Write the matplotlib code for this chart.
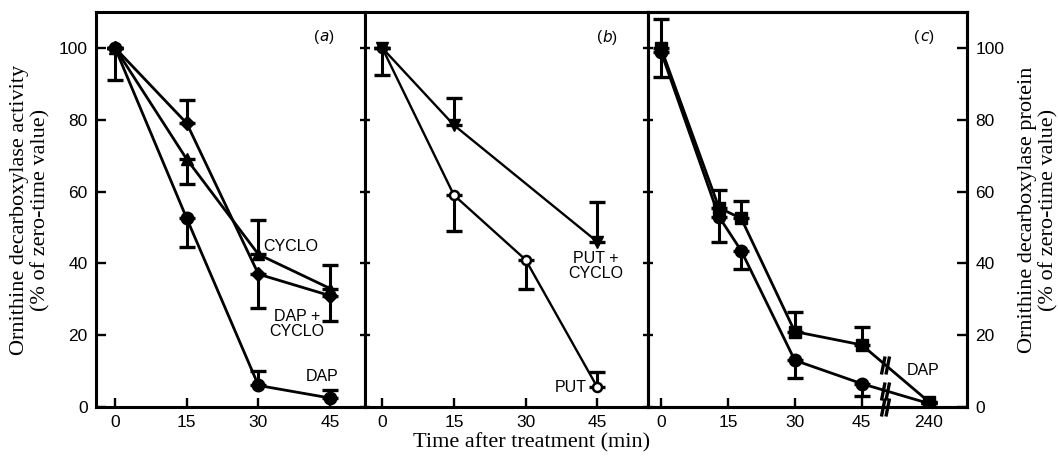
import matplotlib
matplotlib.use("Agg")
import matplotlib.pyplot as plt
import numpy as np
from matplotlib.path import Path

# ------------------------------------------------------------
# Ornithine decarboxylase decay after treatment, panels (a)-(c)
# ------------------------------------------------------------

# panel (a): activity
a_time = [0, 15, 30, 45]
a_dap = [100, 52.5, 6, 2.5]
a_dap_lo = [9, 8, 0, 0]
a_dap_hi = [0, 0, 4, 2.2]
a_cyclo = [100, 69, 42.5, 33]
a_cyclo_lo = [0, 7, 0, 0]
a_cyclo_hi = [0, 0, 9.5, 6.5]
a_dapcyclo = [100, 79, 37, 31]
a_dapcyclo_lo = [0, 0, 9.5, 7]
a_dapcyclo_hi = [0, 6.5, 0, 0]

# panel (b): activity
b_time = [0, 15, 30, 45]
b_put = [100, 59, 41, 5.5]
b_put_lo = [7.5, 10, 8, 0]
b_put_hi = [0, 0, 0, 4.3]
b_putcyclo_time = [0, 15, 45]
b_putcyclo = [100, 78.5, 46]
b_putcyclo_hi = [0, 7.5, 11]

# panel (c): protein; last point is 240 min, drawn after an axis break
c_time = [0, 13, 18, 30, 45, 60]
c_square = [100, 55.5, 52.5, 21, 17.3, 1.5]
c_square_hi = [8, 5, 5, 5.5, 5, 0]
c_circle = [99, 53, 43.5, 13, 6.5, 1]
c_circle_lo = [7, 7, 5, 5, 3.3, 0]
c_ticks = [0, 15, 30, 45, 60]
c_ticklabels = ["0", "15", "30", "45", "240"]
c_break = 50.2

y_ticks = [0, 20, 40, 60, 80, 100]

SANS = "Liberation Sans"
SERIF = "Liberation Serif"
LW = 2.0

plt.rcParams["font.family"] = SANS

fig = plt.figure(figsize=(10.58, 4.57), dpi=100)
bottom, height = 0.1094, 0.8643
ax_a = fig.add_axes([0.0907, bottom, 0.2543, height])
ax_b = fig.add_axes([0.3450, bottom, 0.2675, height])
ax_c = fig.add_axes([0.6125, bottom, 0.3015, height])


def style(ax, xlim, ydir):
    ax.set_ylim(0, 110)
    ax.set_xlim(*xlim)
    for sp in ax.spines.values():
        sp.set_linewidth(2.2)
    ax.set_yticks(y_ticks)
    ax.tick_params(axis="x", direction="in", length=6.5, width=1.7,
                   top=False, labelsize=12.5, pad=6)
    ax.tick_params(axis="y", direction=ydir, length=7, width=1.7,
                   right=False, labelsize=12.5, pad=6)


def series(ax, x, y, lo, hi, marker, ms, lw=LW, mfc="black", mew=1.0):
    ax.errorbar(x, y, yerr=[lo, hi], fmt="none", ecolor="black",
                elinewidth=2.2, capsize=5.5, capthick=2.4, zorder=2)
    ax.plot(x, y, color="black", linewidth=lw, marker=marker, markersize=ms,
            markerfacecolor=mfc, markeredgecolor="black",
            markeredgewidth=mew, zorder=3)


# (a)
style(ax_a, (-4, 52.3), "in")
ax_a.set_xticks(a_time)
series(ax_a, a_time, a_dap, a_dap_lo, a_dap_hi, "o", 9)
series(ax_a, a_time, a_cyclo, a_cyclo_lo, a_cyclo_hi, "^", 8.5)
series(ax_a, a_time, a_dapcyclo, a_dapcyclo_lo, a_dapcyclo_hi, "D", 7.5)
ax_a.text(31, 44.8, "CYCLO", fontsize=11.5, va="center", ha="left")
ax_a.text(38, 23, "DAP +\nCYCLO", fontsize=11.5, va="center", ha="center",
          linespacing=1.0)
ax_a.text(43.3, 8.4, "DAP", fontsize=11.5, va="center", ha="center")
ax_a.text(42.7, 103, "(", fontsize=11, ha="right", va="center")
ax_a.text(42.7, 103, r"$\it{a}$)", fontsize=11, ha="left", va="center")
ax_a.set_ylabel("Ornithine decarboxylase activity\n(% of zero-time value)",
                family=SERIF, fontsize=16, labelpad=6, linespacing=1.1)

# (b)
style(ax_b, (-3.6, 55.6), "inout")
ax_b.set_xticks(b_time)
ax_b.tick_params(axis="y", labelleft=False)
series(ax_b, b_time, b_put, b_put_lo, b_put_hi, "o", 6.5, lw=1.7,
       mfc="white", mew=1.8)
series(ax_b, b_putcyclo_time, b_putcyclo, [0, 0, 0], b_putcyclo_hi, "v", 8,
       lw=1.7)
ax_b.text(44.6, 39.3, "PUT +\nCYCLO", fontsize=11.5, va="center",
          ha="center", linespacing=1.0)
ax_b.text(42.7, 5.3, "PUT", fontsize=11.5, va="center", ha="right")
ax_b.text(46, 103, "(", fontsize=11, ha="right", va="center")
ax_b.text(46, 103, r"$\it{b}$)", fontsize=11, ha="left", va="center")
ax_b.set_xlabel("Time after treatment (min)", family=SERIF, fontsize=16)
ax_b.xaxis.set_label_coords(0.59, -0.065)

# (c)
style(ax_c, (-2.9, 68.6), "inout")
ax_c.set_xticks(c_ticks)
ax_c.set_xticklabels(c_ticklabels)
ax_c.tick_params(axis="y", labelleft=False)
series(ax_c, c_time, c_square, [0] * 6, c_square_hi, "s", 8.5)
series(ax_c, c_time, c_circle, c_circle_lo, [0] * 6, "o", 9)
ax_c.text(58.7, 10.3, "DAP", fontsize=11.5, va="center", ha="center")
ax_c.text(58, 103, "(", fontsize=11, ha="right", va="center")
ax_c.text(58, 103, r"$\it{c}$)", fontsize=11, ha="left", va="center")

# axis-break marks: two steep strokes
brk = Path([(-0.45, -1), (-0.05, 1), (0.05, -1), (0.45, 1)],
           [Path.MOVETO, Path.LINETO, Path.MOVETO, Path.LINETO])
y_sq = np.interp(c_break, c_time, c_square)
y_ci = np.interp(c_break, c_time, c_circle)
ax_c.plot([c_break, c_break, c_break], [y_sq, y_ci, 0], linestyle="none",
          marker=brk, markersize=13, markeredgewidth=2.4, color="black",
          clip_on=False, zorder=5)

ax_r = ax_c.twinx()
ax_r.set_ylim(0, 110)
ax_r.set_yticks(y_ticks)
ax_r.tick_params(axis="y", direction="in", length=7, width=1.7,
                 labelsize=12.5, pad=6)
for sp in ax_r.spines.values():
    sp.set_linewidth(2.2)
ax_r.set_ylabel("Ornithine decarboxylase protein\n(% of zero-time value)",
                family=SERIF, fontsize=16, labelpad=10, linespacing=1.1)

fig.savefig("out.png", dpi=100)
